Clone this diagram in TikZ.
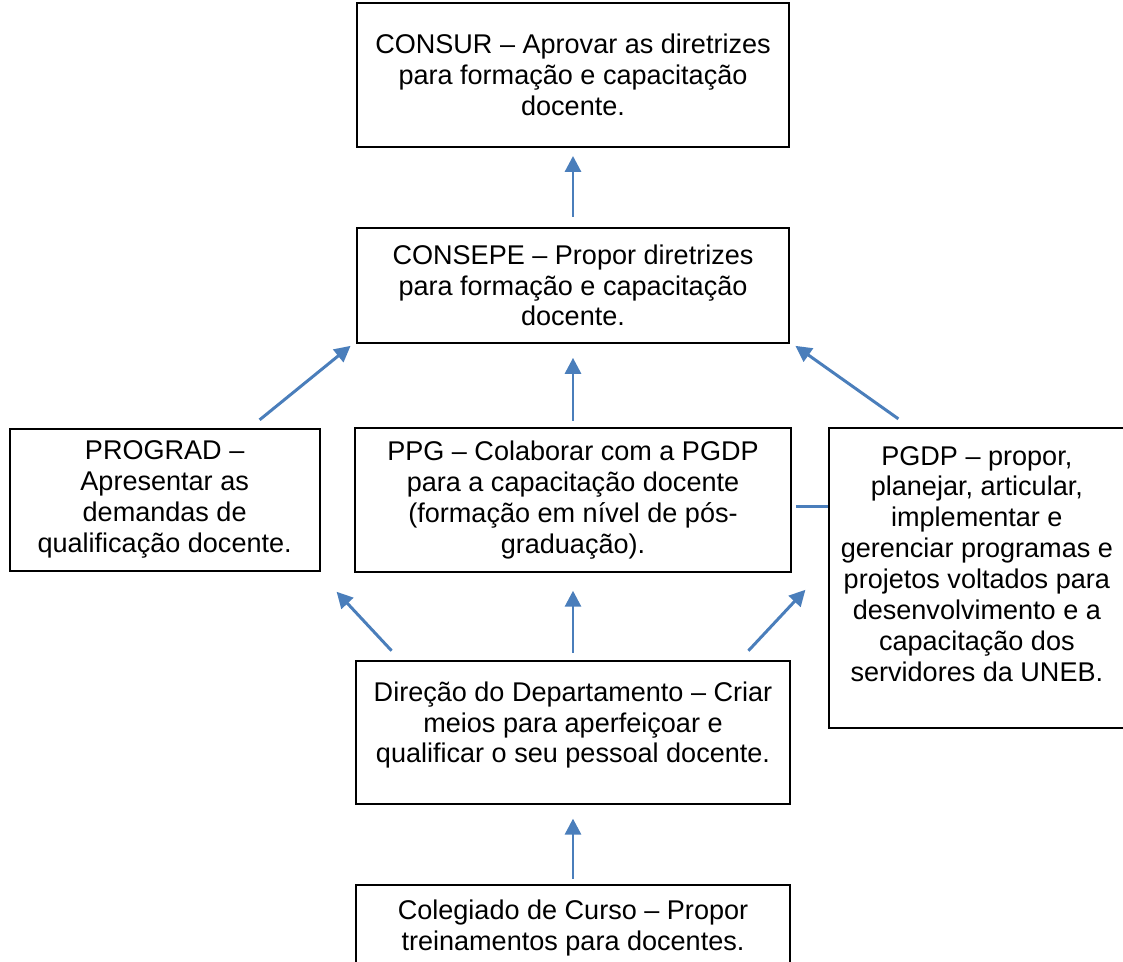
\documentclass[tikz,border=0pt]{standalone}
\usepackage{fontspec}
\setmainfont{Liberation Sans}
\usepackage{tikz}
\usetikzlibrary{arrows.meta,positioning,calc}

\definecolor{uneblue}{RGB}{74,126,187}

\begin{document}
\begin{tikzpicture}[
			x=0.02cm, y=-0.02cm,
			node distance=1.7cm and 0.7cm,
			every node/.style={font=\fontsize{15.4}{17.6}\selectfont},
			box/.style={rectangle, draw, line width=1.1pt, align=center, inner sep=0pt},
			arrow/.style={-{Triangle[length=0.32cm, width=0.32cm]}, draw=uneblue, line width=1.7pt},
			link/.style={draw=uneblue, line width=1.7pt}
		]

		\useasboundingbox (0,0) rectangle (1123,961);
		\clip (0,0) rectangle (1123,961);

		\node (consur) [box, minimum width=8.66cm, minimum height=2.88cm] at (573,75) {CONSUR -- Aprovar as diretrizes\\para formação e capacitação\\docente.};
		\node (consepe) [box, below=1.58cm of consur, minimum width=8.66cm, minimum height=2.3cm] {CONSEPE -- Propor diretrizes\\para formação e capacitação\\docente.};
		\node (ppg) [box, below=1.66cm of consepe, minimum width=8.74cm, minimum height=2.88cm] {PPG -- Colaborar com a PGDP\\para a capacitação docente\\(formação em nível de pós-\\graduação).};
		\node (prograd) [box, left=0.66cm of ppg, minimum width=6.2cm, minimum height=2.84cm] {PROGRAD --\\Apresentar as\\demandas de\\qualificação docente.};
		\node (pgdp) [box, below right=0cm and 0.72cm of ppg.north east, minimum width=5.9cm, minimum height=6cm] {PGDP -- propor,\\planejar, articular,\\implementar e\\gerenciar programas e\\projetos voltados para\\desenvolvimento e a\\capacitação dos\\servidores da UNEB.\\[-0.06cm]};
		\node (direcao) [box, below=1.74cm of ppg, minimum width=8.7cm, minimum height=2.86cm] {Direção do Departamento -- Criar\\meios para aperfeiçoar e\\qualificar o seu pessoal docente.\\[-0.22cm]};
		\node (colegiado) [box, below=1.58cm of direcao, minimum width=8.7cm, minimum height=1.72cm] {Colegiado de Curso -- Propor\\treinamentos para docentes.};

		% setas
		\draw[arrow] ([yshift=0.2cm]consepe.north) -- ([yshift=-0.16cm]consur.south);
		\draw[arrow] ([shift={(1.9cm,0.16cm)}]prograd.north) -- ([shift={(-0.1cm,-0.04cm)}]consepe.south west);
		\draw[arrow] ([yshift=0.12cm]ppg.north) -- ([yshift=-0.28cm]consepe.south);
		\draw[arrow] ([shift={(-1.57cm,0.16cm)}]pgdp.north) -- ([shift={(0.1cm,-0.04cm)}]consepe.south east);
		\draw[link] ([shift={(0.08cm,-0.14cm)}]ppg.east) coordinate (l) -- (l -| pgdp.west);
		\draw[arrow] ([shift={(0.74cm,0.18cm)}]direcao.north west) -- ([shift={(0.32cm,-0.4cm)}]prograd.south east);
		\draw[arrow] ([yshift=0.14cm]direcao.north) -- ([yshift=-0.36cm]ppg.south);
		\draw[arrow] ([shift={(-0.86cm,0.18cm)}]direcao.north east) -- ([shift={(-0.46cm,-0.24cm)}]pgdp.west);
		\draw[arrow] ([yshift=0.1cm]colegiado.north) -- ([yshift=-0.28cm]direcao.south);
	\end{tikzpicture}
\end{document}
